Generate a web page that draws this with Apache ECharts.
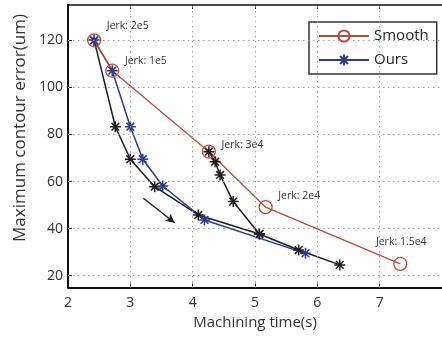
<!DOCTYPE html>
<html><head><meta charset="utf-8">
<script src="https://cdn.jsdelivr.net/npm/echarts@6/dist/echarts.min.js"></script>
<style>html,body{margin:0;padding:0;background:#fff}#c{width:442px;height:338px}</style>
</head><body><div id="c"></div>
<script>
// ---- data ----
const smoothX = [2.42, 2.71, 4.26, 5.17, 7.33];
const smoothY = [120, 107.1, 72.7, 49.1, 25.0];
const smoothLabels = ['Jerk: 2e5', 'Jerk: 1e5', 'Jerk: 3e4', 'Jerk: 2e4', 'Jerk: 1.5e4'];
const oursX = [2.42, 2.71, 3.00, 3.20, 3.52, 4.19, 5.81];
const oursY = [120, 107.1, 83.3, 69.5, 58.1, 43.7, 29.5];
const blackAX = [2.42, 2.76, 3.00, 3.39, 4.09, 5.07, 5.70, 6.36];
const blackAY = [120, 83.3, 69.5, 57.8, 45.8, 37.7, 30.9, 24.6];
const blackBX = [4.26, 4.36, 4.44, 4.65, 5.07];
const blackBY = [72.7, 68.4, 62.8, 51.5, 37.7];
const arrowFrom = [3.21, 52.9];
const arrowTo = [3.71, 42.5];
const xTicks = [2, 3, 4, 5, 6, 7];
const yTicks = [20, 40, 60, 80, 100, 120];
const xName = 'Machining time(s)';
const yName = 'Maximum contour error(um)';

// ---- styles ----
const FONT = '"Open Sans", "Noto Sans", sans-serif';
const RED = '#bd4a3a';
const BLUE = '#2c3a90';
const BLACK = '#1e1e1e';
const STAR = 'path://M10,0L10,20M0,10L20,10M3,3L17,17M3,17L17,3';
const labelOffsets = [[0, -14], [0, -10], [0, -7], [0, -11], [-37, -22]];

const zip = (xs, ys) => xs.map((x, i) => [x, ys[i]]);

const chart = echarts.init(document.getElementById('c'), null, {renderer: 'canvas'});

const gridMarks = []
  .concat(xTicks.slice(1).map(v => ({xAxis: v})))
  .concat(yTicks.map(v => ({yAxis: v})));

chart.setOption({
  animation: false,
  backgroundColor: '#fff',
  grid: {left: 68, right: -8, top: 5, bottom: 50.5, containLabel: false},
  xAxis: [{
    type: 'value', min: 2, max: 8, interval: 1, position: 'bottom',
    axisLine: {show: true, onZero: false, lineStyle: {color: '#111', width: 2}},
    axisTick: {show: true, inside: true, length: 4, customValues: xTicks, lineStyle: {color: '#111'}},
    axisLabel: {show: true, customValues: xTicks, margin: 9, fontSize: 14, color: '#333', fontFamily: FONT},
    splitLine: {show: false},
    name: xName, nameLocation: 'middle', nameGap: 27,
    nameTextStyle: {fontSize: 15, color: '#333', fontFamily: FONT}
  }, {
    type: 'value', min: 2, max: 8, interval: 1, position: 'top',
    axisLine: {show: true, onZero: false, lineStyle: {color: '#111', width: 1.5}},
    axisTick: {show: true, inside: true, length: 4, customValues: xTicks, lineStyle: {color: '#111'}},
    axisLabel: {show: false}, splitLine: {show: false}
  }],
  yAxis: [{
    type: 'value', min: 15, max: 135, position: 'left',
    axisLine: {show: true, onZero: false, lineStyle: {color: '#111', width: 2}},
    axisTick: {show: true, inside: true, length: 4, customValues: yTicks, lineStyle: {color: '#111'}},
    axisLabel: {show: true, customValues: yTicks, margin: 5, fontSize: 14, color: '#333', fontFamily: FONT},
    splitLine: {show: false}
  }],
  graphic: [{
    type: 'text', x: 20, y: 128, rotation: Math.PI / 2,
    style: {text: yName, font: '17px ' + FONT, fill: '#333', textAlign: 'center', textVerticalAlign: 'middle'}
  }],
  legend: {
    data: ['Smooth', 'Ours'], orient: 'vertical', left: 309, top: 22,
    padding: [6, 8, 6, 9], itemWidth: 50, itemHeight: 14, itemGap: 8,
    backgroundColor: '#fff', borderColor: '#333', borderWidth: 1.5, borderRadius: 0,
    textStyle: {fontSize: 15, lineHeight: 16, color: '#222', fontFamily: FONT}
  },
  series: [{
    name: 'grid', type: 'line', data: [], silent: true, z: 1,
    markLine: {
      silent: true, symbol: ['none', 'none'], label: {show: false},
      lineStyle: {color: '#a0a0a0', type: [1.5, 3.5], width: 1},
      emphasis: {disabled: true},
      data: gridMarks
    }
  }, {
    name: 'blackA', type: 'line', data: zip(blackAX, blackAY),
    symbol: STAR, symbolSize: 11,
    itemStyle: {color: 'rgba(0,0,0,0)', borderColor: BLACK, borderWidth: 1.5},
    lineStyle: {color: BLACK, width: 1.5},
    markLine: {
      silent: true, symbol: ['none', 'arrow'], symbolSize: [7, 9],
      lineStyle: {color: BLACK, width: 1.5, type: 'solid'}, label: {show: false},
      data: [[{coord: arrowFrom}, {coord: arrowTo}]]
    }
  }, {
    name: 'blackB', type: 'line', data: zip(blackBX, blackBY),
    symbol: STAR, symbolSize: 11,
    itemStyle: {color: 'rgba(0,0,0,0)', borderColor: BLACK, borderWidth: 1.5},
    lineStyle: {color: BLACK, width: 1.5}
  }, {
    name: 'Ours', type: 'line', data: zip(oursX, oursY),
    symbol: STAR, symbolSize: 11,
    itemStyle: {color: 'rgba(0,0,0,0)', borderColor: BLUE, borderWidth: 1.5},
    lineStyle: {color: BLUE, width: 1.5}
  }, {
    name: 'Smooth', type: 'line',
    data: zip(smoothX, smoothY).map((v, i) => ({value: v, label: {offset: labelOffsets[i]}})),
    symbol: 'circle', symbolSize: 13,
    itemStyle: {color: 'rgba(0,0,0,0)', borderColor: RED, borderWidth: 1.3},
    lineStyle: {color: RED, width: 1.3},
    label: {
      show: true, position: 'right', distance: 5.5,
      formatter: p => smoothLabels[p.dataIndex],
      fontSize: 10.5, color: '#333', fontFamily: FONT
    }
  }]
});
</script></body></html>
